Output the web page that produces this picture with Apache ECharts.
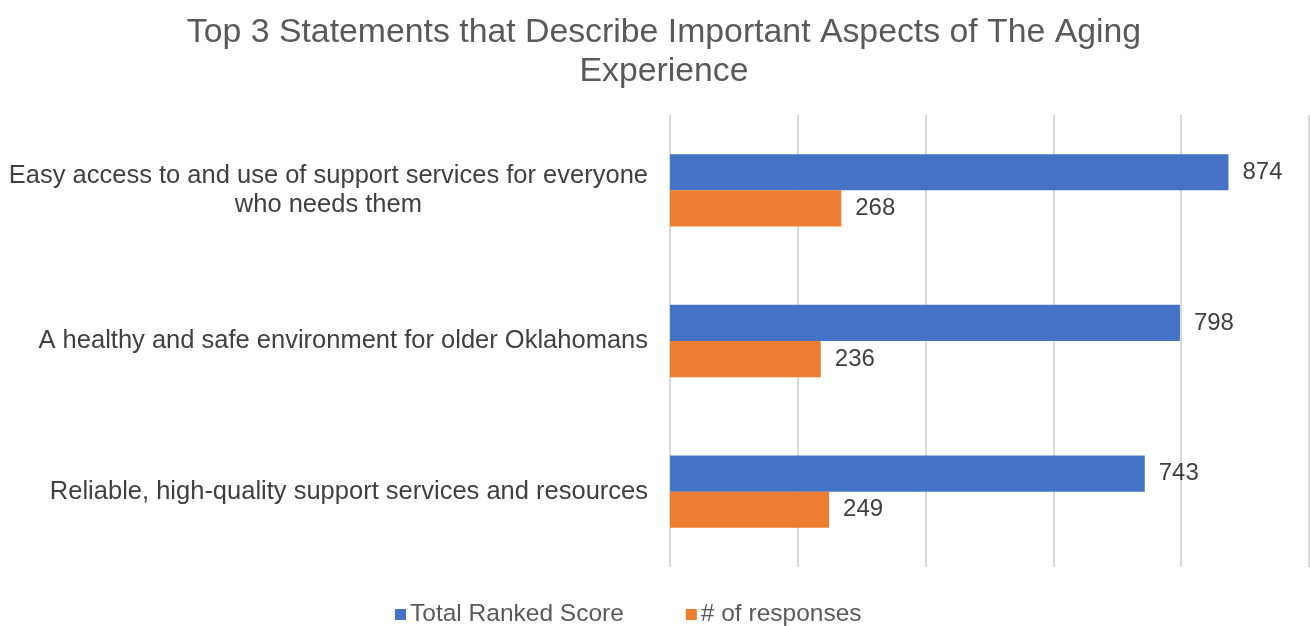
<!DOCTYPE html>
<html>
<head>
<meta charset="utf-8">
<script src="https://cdn.jsdelivr.net/npm/echarts@6/dist/echarts.min.js"></script>
<style>
  html, body { margin: 0; padding: 0; background: #fff; }
  #main { width: 1310px; height: 626px; }
</style>
</head>
<body>
<div id="main"></div>
<script>
// chart data
const categories = [
  'Easy access to and use of support services for everyone\nwho needs them',
  'A healthy and safe environment for older Oklahomans',
  'Reliable, high-quality support services and resources'
];
const totalRankedScore = [874, 798, 743];
const numResponses = [268, 236, 249];
const xTicks = [0, 200, 400, 600, 800, 1000];

const chart = echarts.init(document.getElementById('main'));
const font = 'Liberation Sans, Arial, sans-serif';

chart.setOption({
  textStyle: { fontFamily: font },
  title: {
    text: 'Top 3 Statements that Describe Important Aspects of The Aging\nExperience',
    left: 659,
    textAlign: 'center',
    top: 8,
    textStyle: {
      fontFamily: font,
      fontSize: 33.8,
      fontWeight: 'normal',
      color: '#595959',
      lineHeight: 39
    }
  },
  legend: {
    top: 597,
    left: 390,
    itemWidth: 11,
    itemHeight: 11,
    itemGap: 62,
    icon: 'rect',
    textStyle: { fontSize: 24.5, color: '#595959', fontFamily: font, padding: [0, 0, 0, -1] },
    data: ['Total Ranked Score', '# of responses']
  },
  grid: { left: 670, right: 1, top: 115, bottom: 59 },
  xAxis: {
    type: 'value',
    min: xTicks[0],
    max: xTicks[xTicks.length - 1],
    interval: 200,
    axisLabel: { show: false },
    axisLine: { show: false },
    axisTick: { show: false },
    splitLine: { show: true, lineStyle: { color: '#cccccc', width: 1.5 } }
  },
  yAxis: {
    type: 'category',
    inverse: true,
    data: categories,
    axisLine: { show: false },
    axisTick: { show: false },
    axisLabel: {
      margin: 22,
      fontSize: 25.5,
      color: '#404040',
      fontFamily: font,
      lineHeight: 29,
      formatter: function (v) {
        return v.split('\n').map(s => '{c|' + s + '}').join('\n');
      },
      rich: {
        c: { fontSize: 25.5, color: '#404040', fontFamily: font, align: 'center', lineHeight: 29 }
      }
    }
  },
  series: [
    {
      name: 'Total Ranked Score',
      type: 'bar',
      data: totalRankedScore,
      barGap: '0%',
      barCategoryGap: '52%',
      itemStyle: { color: '#4472c4' },
      label: { show: true, position: 'right', distance: 14, fontSize: 24, color: '#404040', fontFamily: font }
    },
    {
      name: '# of responses',
      type: 'bar',
      data: numResponses,
      barGap: '0%',
      barCategoryGap: '52%',
      itemStyle: { color: '#ed7d31' },
      label: { show: true, position: 'right', distance: 14, fontSize: 24, color: '#404040', fontFamily: font }
    }
  ]
});

window.onresize = function () {
  chart.resize();
};
</script>
</body>
</html>
